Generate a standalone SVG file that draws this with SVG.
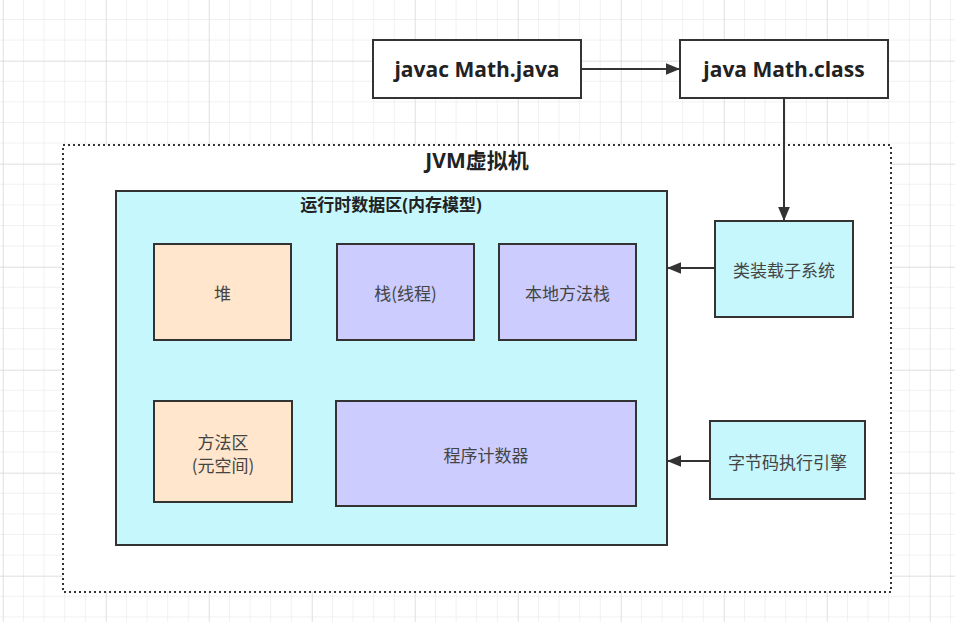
<svg xmlns="http://www.w3.org/2000/svg" width="955" height="622" viewBox="0 0 955 622">
<style>
.box{stroke:#333;stroke-width:2}
.cn{font-family:"Noto Sans CJK SC","Noto Sans",sans-serif;font-size:17px;fill:#444;text-anchor:middle;dominant-baseline:central}
.bold{font-family:"Open Sans","Noto Sans CJK SC",sans-serif;font-weight:bold;fill:#222;text-anchor:middle;dominant-baseline:central}
.conn{stroke:#333;stroke-width:2;fill:none}
</style>
<defs>
<pattern id="minor" patternUnits="userSpaceOnUse" x="2.4" y="19" width="20.6" height="20.6">
<path d="M0 0V20.6M0 0H20.6" stroke="#e4e4e4" stroke-width="1" fill="none"/>
</pattern>
<pattern id="major" patternUnits="userSpaceOnUse" x="106" y="61" width="103" height="103">
<path d="M0 0V103M0 0H103" stroke="#d6d6d6" stroke-width="1" fill="none"/>
</pattern>
<marker id="arrow" viewBox="0 0 12 10" refX="12" refY="5" markerWidth="14" markerHeight="12" markerUnits="userSpaceOnUse" orient="auto">
<path d="M0 0L12 5L0 10z" fill="#333"/>
</marker>
</defs>
<rect width="955" height="622" fill="#fff"/>
<rect width="955" height="622" fill="url(#minor)"/>
<rect width="955" height="622" fill="url(#major)"/>

<g id="jvm">
<rect x="63" y="145" width="828" height="447" fill="#fff" stroke="#333" stroke-width="2" stroke-dasharray="2 3"/>
<text class="bold" x="477" y="160" font-size="21">JVM虚拟机</text>
</g>

<g id="runtime">
<rect class="box" x="116" y="191" width="551" height="354" fill="#c6f7fc"/>
<text class="bold" x="391" y="204" font-size="17">运行时数据区(内存模型)</text>
</g>

<g id="heap">
<rect class="box" x="154" y="244" width="137" height="96" fill="#ffe6cc"/>
<text class="cn" x="222.5" y="292">堆</text>
</g>
<g id="stack">
<rect class="box" x="337" y="244" width="137" height="96" fill="#ccccff"/>
<text class="cn" x="405.5" y="292">栈(线程)</text>
</g>
<g id="native-stack">
<rect class="box" x="499" y="244" width="137" height="96" fill="#ccccff"/>
<text class="cn" x="567.5" y="292">本地方法栈</text>
</g>
<g id="method-area">
<rect class="box" x="154" y="401" width="138" height="101" fill="#ffe6cc"/>
<text class="cn" x="223" y="441">方法区</text>
<text class="cn" x="223" y="464">(元空间)</text>
</g>
<g id="pc">
<rect class="box" x="336" y="401" width="300" height="105" fill="#ccccff"/>
<text class="cn" x="486" y="454">程序计数器</text>
</g>

<g id="javac">
<rect class="box" x="373" y="40" width="208" height="58" fill="#fff"/>
<text class="bold" x="477" y="69" font-size="21">javac Math.java</text>
</g>
<g id="java">
<rect class="box" x="680" y="40" width="208" height="58" fill="#fff"/>
<text class="bold" x="784" y="69" font-size="21">java Math.class</text>
</g>
<g id="classloader">
<rect class="box" x="715" y="221" width="138" height="96" fill="#c6f7fc"/>
<text class="cn" x="784" y="269">类装载子系统</text>
</g>
<g id="engine">
<rect class="box" x="710" y="421" width="155" height="78" fill="#c6f7fc"/>
<text class="cn" x="787.5" y="461">字节码执行引擎</text>
</g>

<g id="connectors">
<line class="conn" x1="581" y1="69" x2="680" y2="69" marker-end="url(#arrow)"/>
<line class="conn" x1="784" y1="98" x2="784" y2="221" marker-end="url(#arrow)"/>
<line class="conn" x1="715" y1="268" x2="667" y2="268" marker-end="url(#arrow)"/>
<line class="conn" x1="710" y1="461" x2="667" y2="461" marker-end="url(#arrow)"/>
</g>
</svg>
